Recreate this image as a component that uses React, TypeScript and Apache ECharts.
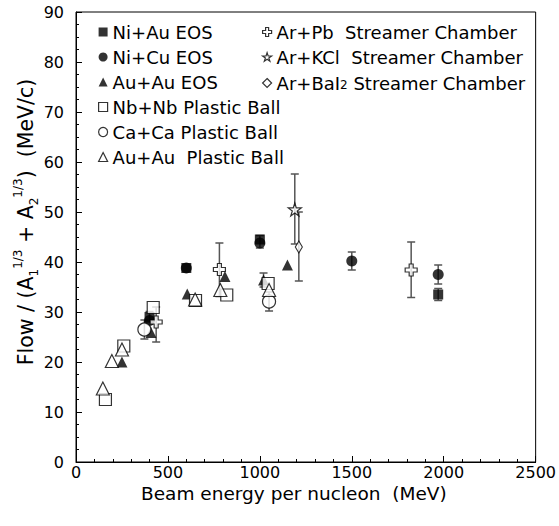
import React, { useEffect, useRef } from "react";
import * as echarts from "echarts";

// ---- data (beam energy per nucleon [MeV], flow / (A1^1/3 + A2^1/3) [MeV/c]) ----
const niAuEOS = [[400, 29.0], [600, 38.8], [1000, 44.5], [1970, 33.5]];
const niCuEOS = [[400, 28.3], [600, 38.8], [1000, 43.8], [1500, 40.2], [1970, 37.5]];
const auAuEOS = [[250, 20.0], [408, 25.9], [605, 33.6], [810, 37.1], [1020, 36.4], [1150, 39.4]];
const nbNbPB = [[160, 12.5], [260, 23.2], [420, 30.9], [650, 32.3], [820, 33.4], [1045, 35.7]];
const caCaPB = [[372, 26.5], [1050, 32.1]];
const auAuPB = [[146, 14.7], [195, 20.2], [250, 22.5], [648, 32.5], [785, 34.4], [1050, 34.4]];
const arPbSC = [[436, 28.0], [780, 38.5], [1823, 38.4]];
const arKClSC = [[1190, 50.5]];
const arBaI2SC = [[1212, 43.0]];

// error bars: [energy, low, high]
const errorBars = [
  [400, 27.9, 30.1],
  [1000, 42.8, 45.3],
  [1970, 32.3, 34.7],
  [1500, 38.4, 42.0],
  [1970, 35.6, 39.4],
  [372, 24.6, 28.4],
  [436, 24.0, 31.0],
  [780, 33.1, 43.8],
  [1823, 32.9, 44.0],
  [1020, 35.0, 37.8],
  [1050, 30.2, 34.0],
  [1190, 43.6, 57.6],
  [1212, 36.2, 50.0],
];

const xTicks = [0, 500, 1000, 1500, 2000, 2500];
const yTicks = [0, 10, 20, 30, 40, 50, 60, 70, 80, 90];

const FONT = "DejaVu Sans";
const CROSS = "path://M4,0H8V4H12V8H8V12H4V8H0V4H4Z";
const STAR = "path://M50,0L61.2,34.5L97.6,34.5L68.2,55.9L79.4,90.5L50,69.1L20.6,90.5L31.8,55.9L2.4,34.5L38.8,34.5Z";

const filled = { color: "#000" };
const open = { color: "#fff", borderColor: "#000", borderWidth: 1.2 };

export default function App() {
  const ref = useRef<HTMLDivElement>(null);
  useEffect(() => {
    if (!ref.current) return;
    const chart = echarts.init(ref.current, null, { renderer: "svg" });
    const sc = (name: string, data: number[][], symbol: any, size: any, style: any) => ({
      type: "scatter",
      name,
      data,
      symbol,
      symbolSize: size,
      itemStyle: style,
      z: 5,
      emphasis: { disabled: true },
    });
    const legendText = {
      fontFamily: FONT,
      fontSize: 18,
      color: "#000",
      lineHeight: 16,
      rich: {
        sub: { fontFamily: FONT, fontSize: 12, verticalAlign: "bottom", lineHeight: 16, padding: [6, 0, 0, 0] },
      },
    };
    const legendCommon = {
      orient: "vertical",
      top: 18,
      itemWidth: 9,
      itemHeight: 9,
      itemGap: 7.0,
      textStyle: legendText,
      selectedMode: false,
    };
    const li = (name: string, icon: string, style: any) => ({ name, icon, itemStyle: style });
    chart.setOption({
      animation: false,
      backgroundColor: "#fff",
      grid: {
        left: 76,
        right: 23,
        top: 12,
        bottom: 64,
        show: true,
        borderColor: "#000",
        borderWidth: 1,
        backgroundColor: "transparent",
      },
      legend: [
        {
          ...legendCommon,
          left: 93,
          data: [
            li("Ni+Au EOS", "rect", filled),
            li("Ni+Cu EOS", "circle", filled),
            li("Au+Au EOS", "triangle", filled),
            li("Nb+Nb Plastic Ball", "rect", open),
            li("Ca+Ca Plastic Ball", "circle", open),
            li("Au+Au  Plastic Ball", "triangle", open),
          ],
        },
        {
          ...legendCommon,
          left: 257,
          formatter: (n: string) => n.replace("BaI2", "BaI{sub|2}"),
          data: [
            li("Ar+Pb  Streamer Chamber", CROSS, open),
            li("Ar+KCl  Streamer Chamber", STAR, open),
            li("Ar+BaI2 Streamer Chamber", "diamond", open),
          ],
        },
      ],
      xAxis: {
        type: "value",
        min: xTicks[0],
        max: xTicks[xTicks.length - 1],
        interval: 500,
        name: "Beam energy per nucleon  (MeV)",
        nameLocation: "middle",
        nameGap: 23,
        nameMoveOverlap: false,
        nameTextStyle: { fontFamily: FONT, fontSize: 18.5, color: "#000", lineHeight: 16, padding: [0, 24, 0, 0] },
        axisLine: { show: true, lineStyle: { color: "#000", width: 1 } },
        axisTick: { show: true, inside: true, length: 6, lineStyle: { color: "#000" } },
        minorTick: { show: true, splitNumber: 5, length: 3, lineStyle: { color: "#000" } },
        axisLabel: {
          fontFamily: FONT,
          fontSize: 16,
          color: "#000",
          margin: 4,
          lineHeight: 12,
          formatter: (v: number) => String(v),
        },
        splitLine: { show: false },
      },
      yAxis: {
        type: "value",
        min: yTicks[0],
        max: yTicks[yTicks.length - 1],
        interval: 10,
        name: "Flow / (A{sub|1}{sup|1/3} + A{sub|2}{sup|1/3})  (MeV/c)",
        nameLocation: "middle",
        nameRotate: 90,
        nameGap: 36,
        nameMoveOverlap: false,
        nameTextStyle: {
          fontFamily: FONT,
          fontSize: 20.5,
          color: "#000",
          lineHeight: 28,
          padding: [0, 0, 0, 30],
          rich: {
            sub: { fontFamily: FONT, fontSize: 12, color: "#000", verticalAlign: "bottom", lineHeight: 28 },
            sup: { fontFamily: FONT, fontSize: 12, color: "#000", verticalAlign: "top", lineHeight: 28 },
          },
        },
        axisLine: { show: true, lineStyle: { color: "#000", width: 1 } },
        axisTick: { show: true, inside: true, length: 6, lineStyle: { color: "#000" } },
        minorTick: { show: true, splitNumber: 4, length: 3, lineStyle: { color: "#000" } },
        axisLabel: { fontFamily: FONT, fontSize: 16, color: "#000", margin: 12 },
        splitLine: { show: false },
      },
      series: [
        {
          type: "custom",
          name: "errors",
          data: errorBars,
          encode: { x: 0, y: [1, 2] },
          z: 2,
          silent: true,
          renderItem: (_p: any, api: any) => {
            const x = api.value(0);
            const lo = api.coord([x, api.value(1)]);
            const hi = api.coord([x, api.value(2)]);
            const w = 4;
            const st = { stroke: "#555", lineWidth: 1.5 };
            return {
              type: "group",
              children: [
                { type: "line", shape: { x1: lo[0], y1: lo[1], x2: hi[0], y2: hi[1] }, style: st },
                { type: "line", shape: { x1: lo[0] - w, y1: lo[1], x2: lo[0] + w, y2: lo[1] }, style: st },
                { type: "line", shape: { x1: hi[0] - w, y1: hi[1], x2: hi[0] + w, y2: hi[1] }, style: st },
              ],
            };
          },
        },
        sc("Ni+Au EOS", niAuEOS, "rect", 10, filled),
        sc("Ni+Cu EOS", niCuEOS, "circle", 11, filled),
        sc("Au+Au EOS", auAuEOS, "triangle", 11, filled),
        sc("Nb+Nb Plastic Ball", nbNbPB, "rect", 12, open),
        sc("Ca+Ca Plastic Ball", caCaPB, "circle", 13, open),
        sc("Au+Au  Plastic Ball", auAuPB, "triangle", 13, open),
        sc("Ar+Pb  Streamer Chamber", arPbSC, CROSS, 12, open),
        sc("Ar+KCl  Streamer Chamber", arKClSC, STAR, 13, open),
        sc("Ar+BaI2 Streamer Chamber", arBaI2SC, "diamond", [7, 12], open),
      ],
    });
    return () => chart.dispose();
  }, []);
  return <div ref={ref} style={{ position: "fixed", left: 0, top: 0, width: 559, height: 526 }} />;
}
